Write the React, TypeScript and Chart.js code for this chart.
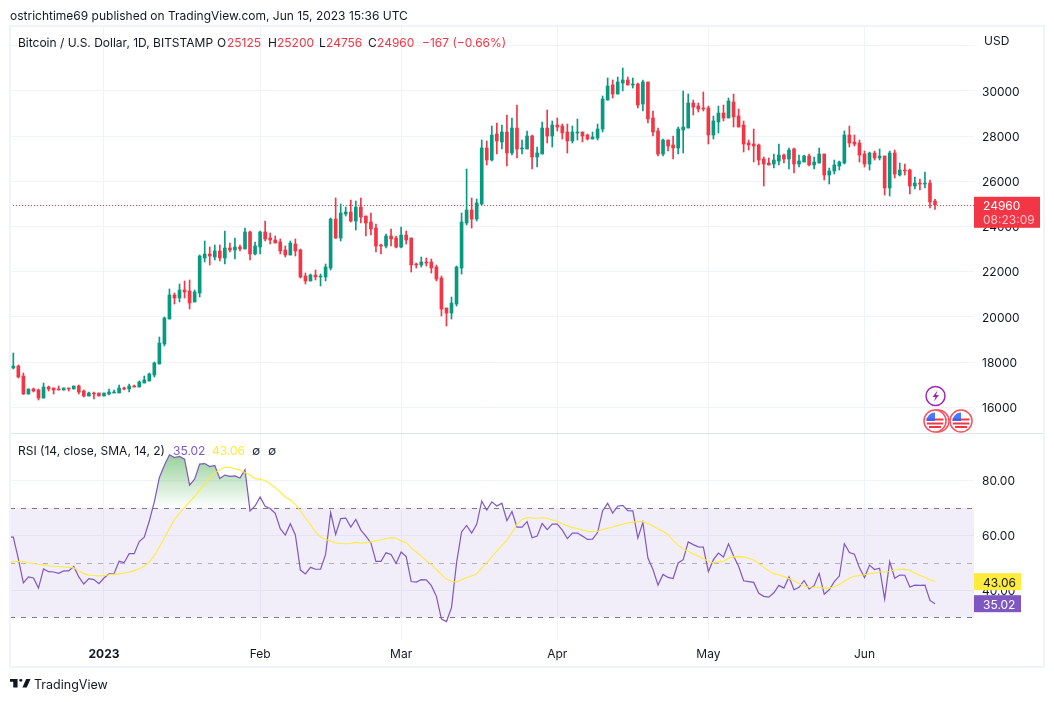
import React, { useEffect, useRef } from "react";
import { Chart, registerables } from "chart.js";

Chart.register(...registerables);

const FONT = "Inter, 'Liberation Sans', sans-serif";
const GREEN = "#089981";
const RED = "#F23645";
const PURPLE = "#7E57C2";
const YELLOW = "#FFEB3B";
const GRID = "#f0f3fa";
const INK = "#131722";

// Day offset from 1 Jan 2023 of the first candle (14 Dec 2022); one candle per day.
const firstDay = -18;

const opens = [
  17739, 17827, 17385, 16589, 16810, 16766, 16412, 16898, 16854, 16810,
  16766, 16854, 16810, 16943, 16721, 16500, 16633, 16633, 16500, 16589,
  16633, 16633, 16854, 16810, 16943, 16898, 17075, 17164, 17429, 17916,
  18801, 19907, 20969, 20836, 21191, 21146, 20660, 21058, 22607, 22784,
  22651, 22916, 22607, 23049, 22961, 23093, 23005, 23757, 22784, 23093,
  23757, 23492, 23403, 23315, 22961, 22739, 23226, 22961, 21810, 21589,
  21854, 21766, 21766, 22163, 24331, 23491, 24553, 24641, 24243, 24862,
  24464, 24199, 23933, 23181, 23137, 23579, 23491, 23092, 23623, 23491,
  22340, 22296, 22428, 22428, 22207, 21721, 20393, 20172, 20570, 22163,
  24154, 24729, 24331, 24995, 27473, 26942, 28093, 27739, 28181, 27252,
  28358, 27429, 27429, 28004, 27075, 27207, 28358, 28004, 28491, 28447,
  28181, 27783, 28137, 28181, 28048, 27871, 27915, 28314, 29597, 30261,
  29862, 30349, 30482, 30261, 30305, 29420, 30394, 28801, 28225, 27207,
  27827, 27606, 27473, 28269, 28358, 29464, 29331, 29243, 29243, 28048,
  28624, 29022, 28801, 29509, 28889, 28491, 27694, 27650, 27606, 26986,
  26809, 26765, 26898, 27163, 26986, 27429, 26765, 26853, 27119, 26721,
  26809, 27207, 26278, 26455, 26676, 26809, 28048, 27738, 27694, 27207,
  26765, 27252, 27031, 27119, 25703, 27252, 26278, 26499, 26499, 25791,
  25924, 25880, 25924, 25125,
];

const highs = [
  18403, 17872, 17518, 16810, 16854, 16810, 17075, 16943, 16854, 16943,
  16854, 16854, 16943, 16987, 16766, 16677, 16677, 16633, 16633, 16810,
  16766, 16987, 16898, 17031, 16987, 17164, 17385, 17518, 18004, 19111,
  19996, 21235, 21058, 21456, 21589, 21633, 21191, 22739, 23359, 23093,
  23182, 23182, 23801, 23270, 23492, 23182, 23934, 23801, 23315, 23801,
  24244, 23713, 23580, 23447, 23138, 23359, 23447, 23005, 21943, 21899,
  22076, 21899, 22341, 24376, 25261, 24995, 24862, 25172, 25128, 25261,
  24464, 24597, 24110, 23225, 23667, 23889, 23579, 23977, 23800, 23491,
  22384, 22650, 22606, 22561, 22296, 21809, 20393, 20880, 22252, 24597,
  26544, 25261, 25216, 27827, 27783, 28447, 28579, 28491, 28933, 28801,
  29376, 27827, 28225, 28048, 27517, 28623, 29154, 28668, 28801, 28535,
  28535, 28447, 28756, 28181, 28093, 28181, 28535, 29774, 30571, 30482,
  30615, 31013, 30615, 30571, 30349, 30482, 30394, 29110, 28358, 27871,
  27827, 28004, 28402, 29995, 29862, 29597, 29464, 29951, 29331, 28889,
  29331, 29376, 29685, 29862, 29199, 28668, 27827, 28314, 27650, 27075,
  27031, 27207, 27650, 27207, 27473, 27473, 27163, 27163, 27207, 27075,
  27473, 27207, 26588, 26942, 26898, 28225, 28446, 28048, 27827, 27340,
  27296, 27340, 27429, 27119, 27340, 27384, 26809, 26765, 26544, 26189,
  26101, 26411, 26057, 25200,
];

const lows = [
  17695, 17297, 16570, 16580, 16677, 16323, 16400, 16721, 16589, 16766,
  16760, 16721, 16810, 16589, 16456, 16500, 16367, 16500, 16500, 16544,
  16633, 16633, 16766, 16677, 16898, 16898, 17075, 17164, 17341, 17916,
  18712, 19907, 20571, 20660, 20836, 20350, 20660, 20881, 22430, 22297,
  22518, 22474, 22341, 22872, 22562, 22916, 23005, 22518, 22739, 22784,
  23359, 23226, 23270, 22784, 22651, 22739, 22695, 21721, 21456, 21589,
  21633, 21368, 21589, 22075, 23470, 23358, 24464, 24199, 23845, 24154,
  23579, 23623, 22871, 22783, 23048, 23137, 23048, 23048, 23225, 21986,
  22163, 22207, 22251, 21942, 21588, 20039, 19597, 19906, 20481, 21897,
  24066, 23933, 24243, 24951, 26721, 26898, 27207, 27429, 26677, 27163,
  27030, 27207, 27429, 26544, 26632, 27207, 27694, 27517, 28225, 27871,
  27252, 27694, 27827, 27738, 27827, 27871, 27827, 28181, 29590, 29685,
  29860, 29995, 30261, 30128, 29243, 29110, 28579, 28004, 27119, 27119,
  27340, 26986, 27207, 27252, 28358, 28933, 29066, 29110, 27650, 27871,
  28137, 28668, 28801, 28402, 28402, 27296, 27384, 26854, 26721, 25791,
  26721, 26588, 26721, 26809, 26544, 26367, 26632, 26853, 26676, 26544,
  26809, 26057, 25880, 26322, 26499, 26765, 27517, 27562, 26853, 26632,
  26499, 26942, 26942, 25393, 25349, 26145, 26234, 26278, 25437, 25659,
  25615, 25703, 24818, 24756,
];

const closes = [
  17827, 17341, 16589, 16810, 16721, 16412, 16898, 16810, 16766, 16766,
  16854, 16810, 16943, 16677, 16500, 16633, 16589, 16500, 16633, 16677,
  16677, 16854, 16810, 16943, 16898, 17120, 17208, 17474, 17960, 18845,
  19952, 20969, 20836, 21191, 21102, 20615, 21102, 22695, 22784, 22695,
  22916, 22607, 23049, 22961, 23093, 23005, 23757, 22784, 23138, 23757,
  23447, 23403, 23270, 22916, 22739, 23270, 22916, 21766, 21589, 21854,
  21766, 21810, 22208, 24331, 23491, 24597, 24641, 24243, 24862, 24420,
  24154, 23889, 23137, 23137, 23579, 23446, 23092, 23623, 23402, 22296,
  22296, 22428, 22384, 22163, 21676, 20349, 20172, 20614, 22207, 24199,
  24729, 24331, 25039, 27473, 26942, 28048, 27783, 28181, 27252, 28358,
  27429, 27473, 28004, 27075, 27252, 28358, 28004, 28491, 28402, 28137,
  27783, 28181, 28181, 28004, 27871, 27960, 28314, 29641, 30217, 29862,
  30394, 30482, 30261, 30305, 29376, 30394, 28756, 28181, 27207, 27827,
  27562, 27473, 28314, 28402, 29464, 29287, 29199, 29199, 28048, 28668,
  29022, 28801, 29553, 28845, 28402, 27650, 27606, 27562, 26942, 26765,
  26721, 26942, 27163, 26986, 27384, 26765, 26898, 27119, 26721, 26853,
  27207, 26278, 26455, 26721, 26853, 28048, 27694, 27650, 27163, 26765,
  27252, 27031, 27119, 25703, 27252, 26322, 26499, 26455, 25791, 25924,
  25880, 25924, 25084, 24960,
];

const rsiValues = [
  59.3, 51.4, 42.6, 44.8, 44.4, 40.7, 47.7, 46.7, 46.6, 46.1,
  47.0, 47.0, 48.6, 44.8, 42.2, 44.2, 43.8, 42.3, 44.4, 45.9,
  46.0, 50.5, 50.0, 53.3, 53.3, 57.7, 59.3, 65.2, 72.3, 81.1,
  85.6, 89.4, 88.4, 88.8, 87.8, 78.3, 80.5, 86.0, 86.2, 85.1,
  85.5, 80.7, 82.0, 81.5, 81.7, 80.9, 83.9, 68.9, 70.7, 74.0,
  70.6, 69.8, 68.0, 62.4, 60.1, 64.2, 60.1, 47.3, 45.9, 48.3,
  47.6, 47.6, 53.0, 68.3, 60.3, 66.1, 66.3, 63.0, 65.8, 61.9,
  59.7, 57.2, 50.5, 50.5, 53.6, 53.0, 49.7, 53.9, 52.2, 43.1,
  42.9, 43.8, 43.7, 41.6, 37.7, 29.4, 28.5, 33.6, 49.9, 61.2,
  63.6, 60.8, 64.0, 72.5, 69.2, 72.2, 70.7, 71.7, 65.3, 68.7,
  63.0, 63.0, 65.0, 59.1, 59.7, 64.3, 62.1, 64.1, 64.1, 61.9,
  58.8, 60.8, 60.8, 59.7, 58.5, 58.6, 61.0, 68.9, 71.7, 68.1,
  70.6, 70.9, 69.0, 68.9, 59.0, 64.7, 51.7, 47.5, 41.8, 45.7,
  44.6, 44.2, 49.9, 51.1, 57.6, 56.6, 55.8, 55.7, 46.7, 51.1,
  53.5, 52.1, 56.9, 52.4, 48.7, 43.4, 43.1, 42.8, 38.8, 37.7,
  37.4, 39.0, 41.7, 40.7, 44.8, 40.1, 41.0, 43.5, 40.4, 41.6,
  46.1, 38.5, 40.1, 43.1, 45.1, 56.9, 53.7, 53.1, 48.1, 44.6,
  49.1, 47.5, 48.0, 36.7, 50.4, 44.3, 45.5, 45.4, 41.1, 41.8,
  41.7, 41.8, 36.2, 35.02,
];

const rsiSma = [
  50.3, 50.5, 50.4, 50.0, 49.7, 49.4, 49.2, 48.9, 48.7, 48.6,
  48.4, 48.3, 48.1, 47.1, 46.0, 45.4, 45.3, 45.1, 45.3, 45.6,
  45.8, 45.9, 46.2, 46.6, 47.1, 47.8, 48.7, 50.2, 52.6, 55.7,
  59.1, 62.5, 65.8, 68.0, 70.2, 72.2, 74.1, 76.5, 78.7, 81.0,
  82.7, 83.9, 84.8, 84.8, 84.3, 83.8, 82.9, 82.0, 80.7, 80.5,
  79.9, 78.8, 77.4, 75.8, 74.0, 72.9, 71.3, 68.9, 66.4, 64.0,
  61.2, 59.4, 58.5, 57.9, 57.2, 57.0, 56.9, 57.0, 57.4, 57.2,
  57.2, 57.6, 58.1, 58.3, 58.8, 59.1, 59.0, 57.9, 57.4, 55.4,
  53.9, 52.4, 50.8, 49.3, 47.5, 45.6, 44.0, 43.2, 42.9, 43.8,
  44.6, 45.1, 45.9, 48.1, 49.9, 52.1, 54.2, 56.3, 58.2, 60.9,
  64.0, 65.8, 66.5, 66.3, 66.2, 66.4, 66.2, 65.6, 65.1, 64.2,
  63.5, 62.8, 62.5, 61.9, 61.5, 61.3, 61.4, 62.1, 62.6, 63.0,
  63.6, 64.0, 64.5, 64.8, 65.0, 65.0, 64.3, 63.4, 62.3, 61.5,
  60.3, 58.1, 56.4, 55.0, 54.2, 53.2, 52.4, 51.4, 50.5, 50.0,
  50.3, 50.5, 51.6, 52.1, 52.2, 52.1, 51.6, 51.0, 49.7, 48.3,
  47.1, 46.0, 45.6, 44.9, 44.2, 43.3, 42.4, 41.5, 41.1, 41.0,
  41.0, 40.7, 40.7, 41.2, 42.0, 43.2, 44.3, 45.1, 45.3, 45.6,
  46.0, 46.2, 46.6, 46.6, 46.8, 47.3, 47.6, 47.7, 47.2, 46.2,
  45.4, 44.6, 43.8, 43.06,
];

// The readings of the day just left of the first candle, where the lines enter the pane.
const rsiPrior = 59.3;
const smaPrior = 50.2;

const priceTicks = [16000, 18000, 20000, 22000, 24000, 26000, 28000, 30000, 32000];
const rsiTicks = [40, 60, 80];
const monthTicks = [0, 31, 59, 90, 120, 151];
const monthLabels = ["2023", "Feb", "Mar", "Apr", "May", "Jun"];
const lastPrice = 24960;
const countdown = "08:23:09";
const rsiLast = 35.02;
const smaLast = 43.06;

const days = opens.map((_, i) => firstDay + i);
const AXIS_SIZE = 12;

const panesPlugin = {
  id: "panes",
  beforeDatasetsDraw(chart: any) {
    const { ctx, chartArea: a, scales } = chart;
    const r = scales.rsi;
    ctx.save();
    ctx.fillStyle = "rgba(126,87,194,0.1)";
    ctx.fillRect(a.left - 1, r.getPixelForValue(70), a.right - a.left + 1, r.getPixelForValue(30) - r.getPixelForValue(70));
    ctx.lineWidth = 1;
    ctx.setLineDash([5, 6]);
    ctx.strokeStyle = "#787B86";
    for (const v of [70, 30]) {
      const y = Math.round(r.getPixelForValue(v)) + 0.5;
      ctx.beginPath(); ctx.moveTo(a.left - 1, y); ctx.lineTo(a.right, y); ctx.stroke();
    }
    ctx.strokeStyle = "rgba(120,123,134,0.55)";
    const mid = Math.round(r.getPixelForValue(50)) + 0.5;
    ctx.beginPath(); ctx.moveTo(a.left - 1, mid); ctx.lineTo(a.right, mid); ctx.stroke();
    // last price dotted line
    ctx.setLineDash([1, 2]);
    ctx.strokeStyle = RED;
    const py = Math.round(scales.price.getPixelForValue(lastPrice)) + 0.5;
    ctx.beginPath(); ctx.moveTo(a.left - 1, py); ctx.lineTo(a.right, py); ctx.stroke();
    ctx.restore();
  },
  afterDraw(chart: any) {
    const { ctx, chartArea: a, scales } = chart;
    ctx.save();
    // pane divider and frame
    ctx.fillStyle = "#e0e3eb";
    ctx.fillRect(10, Math.round(scales.rsi.top) - 1, 1034, 1);
    ctx.strokeStyle = GRID;
    ctx.lineWidth = 2;
    ctx.strokeRect(10, 26, 1034, 641);
    // value tags
    const tag = (y: number, h: number, bg: string) => {
      ctx.fillStyle = bg;
      ctx.fillRect(a.right, y, bg === RED ? 66 : 47, h);
    };
    ctx.textBaseline = "middle";
    ctx.textAlign = "left";
    ctx.font = `${AXIS_SIZE}px ${FONT}`;
    const yp = scales.price.getPixelForValue(lastPrice);
    tag(yp - 8, 31, RED);
    ctx.fillStyle = "#ffffff";
    ctx.fillText(String(lastPrice), a.right + 9, yp + 1.5);
    ctx.fillStyle = "rgba(255,255,255,0.7)";
    ctx.fillText(countdown, a.right + 9, yp + 16);
    const ys = scales.rsi.getPixelForValue(smaLast);
    tag(ys - 8.5, 17, YELLOW);
    ctx.fillStyle = INK;
    ctx.fillText(smaLast.toFixed(2), a.right + 9, ys + 1.5);
    const yr = scales.rsi.getPixelForValue(rsiLast);
    tag(yr - 8.5, 17, PURPLE);
    ctx.fillStyle = "#ffffff";
    ctx.fillText(rsiLast.toFixed(2), a.right + 9, yr + 1.5);
    ctx.restore();
  },
};

const txt = (left: number, top: number, text: string, color = INK, size = 12) => (
  <span style={{ position: "absolute", left, top, color, fontSize: size, lineHeight: "16px", whiteSpace: "pre" }}>{text}</span>
);

const Flag = ({ cx, cy }: { cx: number; cy: number }) => (
  <g>
    <circle cx={cx} cy={cy} r={11} fill="#fff" stroke="#F7525F" strokeWidth={1.5} />
    <circle cx={cx} cy={cy} r={8.5} fill="#fff" />
    <path d={`M${cx - 8.5} ${cy - 1.5}h17M${cx - 8.2} ${cy + 2.5}h16.4M${cx - 6} ${cy + 6}h12`} stroke="#F23645" strokeWidth={2} />
    <path d={`M${cx - 8.5} ${cy}a8.5 8.5 0 0 1 8.5 -8.5v8.5z`} fill="#2962FF" opacity={0.85} />
  </g>
);

export default function App() {
  const ref = useRef<HTMLCanvasElement | null>(null);

  useEffect(() => {
    if (!ref.current) return;
    const wick = days.map((d, i) => ({ x: d, y: [lows[i], highs[i]] }));
    const body = days.map((d, i) => ({ x: d, y: [Math.min(opens[i], closes[i]), Math.max(opens[i], closes[i])] }));
    const colors = days.map((_, i) => (closes[i] >= opens[i] ? GREEN : RED));
    const chart = new Chart(ref.current, {
      type: "bar",
      data: {
        datasets: [
          { label: "wick", data: wick, backgroundColor: colors, barThickness: 1, grouped: false, yAxisID: "price", xAxisID: "x", order: 2 } as any,
          { label: "body", data: body, backgroundColor: colors, barThickness: 3, grouped: false, yAxisID: "price", xAxisID: "x", order: 1 } as any,
          {
            type: "line", label: "RSI",
            data: [{ x: firstDay - 1, y: rsiPrior }, ...days.map((d, i) => ({ x: d, y: rsiValues[i] }))],
            borderColor: PURPLE, borderWidth: 1.2,
            pointRadius: 0, tension: 0, yAxisID: "rsi", xAxisID: "x", order: 1,
            fill: { target: { value: 70 }, above: "rgba(76,175,80,0.3)", below: "rgba(0,0,0,0)" },
          } as any,
          {
            type: "line", label: "RSI-based MA",
            data: [{ x: firstDay - 1, y: smaPrior }, ...days.map((d, i) => ({ x: d, y: rsiSma[i] }))],
            borderColor: YELLOW, borderWidth: 1.1,
            pointRadius: 0, tension: 0, yAxisID: "rsi", xAxisID: "x", order: 0,
          } as any,
        ],
      },
      options: {
        responsive: false,
        animation: false,
        events: [],
        layout: { padding: { left: 11, right: 11, top: 27, bottom: 35 } },
        plugins: { legend: { display: false }, title: { display: false }, tooltip: { enabled: false } },
        scales: {
          x: {
            type: "linear",
            min: -18.46,
            max: 172.74,
            offset: false,
            afterFit: (s: any) => { s.height = 27; },
            afterBuildTicks: (s: any) => { s.ticks = monthTicks.map((value) => ({ value })); },
            grid: { color: GRID, drawTicks: false, offset: false },
            border: { display: false },
            ticks: {
              autoSkip: false, maxRotation: 0, padding: 7, color: INK,
              font: (c: any) => ({ family: FONT, size: AXIS_SIZE, weight: c.tick && c.tick.value === 0 ? "bold" : "normal" }),
              callback: (v: any) => monthLabels[monthTicks.indexOf(Number(v))] ?? "",
            },
          },
          price: {
            type: "linear", position: "right", stack: "panes", stackWeight: 407, min: 14819, max: 32827,
            afterFit: (s: any) => { s.width = 69; },
            afterBuildTicks: (s: any) => { s.ticks = priceTicks.map((value) => ({ value })); },
            grid: { color: GRID, drawTicks: false },
            border: { display: false },
            ticks: {
              padding: 8, color: INK, font: { family: FONT, size: AXIS_SIZE, lineHeight: "2px" },
              callback: (v: any) => (Number(v) === 32000 ? "" : ["", String(v)]),
            },
          },
          rsi: {
            type: "linear", position: "right", stack: "panes", stackWeight: 206, min: 21.76, max: 96.99,
            afterFit: (s: any) => { s.width = 69; },
            afterBuildTicks: (s: any) => { s.ticks = rsiTicks.map((value) => ({ value })); },
            grid: { color: GRID, drawTicks: false },
            border: { display: false },
            ticks: {
              padding: 8, color: INK, font: { family: FONT, size: AXIS_SIZE, lineHeight: "2px" },
              callback: (v: any) => ["", Number(v).toFixed(2)],
            },
          },
        },
      } as any,
      plugins: [panesPlugin],
    });
    const g = chart.ctx.createLinearGradient(0, chart.scales.rsi.getPixelForValue(90), 0, chart.scales.rsi.getPixelForValue(70));
    g.addColorStop(0, "rgba(76,175,80,0.6)");
    g.addColorStop(1, "rgba(76,175,80,0)");
    (chart.data.datasets[2] as any).fill.above = g;
    chart.update("none");
    return () => chart.destroy();
  }, []);

  return (
    <div style={{ position: "absolute", left: 0, top: 0, width: 1054, height: 702, overflow: "hidden", background: "#fff", fontFamily: FONT }}>
      <canvas ref={ref} width={1054} height={702} style={{ position: "absolute", left: 0, top: 0, width: 1054, height: 702 }} />
      {txt(10, 8, "ostrichtime69 published on TradingView.com, Jun 15, 2023 15:36 UTC")}
      {txt(18, 35, "Bitcoin / U.S. Dollar, 1D, BITSTAMP")}
      {txt(217, 35, "O")}{txt(227, 35, "25125", RED)}
      {txt(268, 35, "H")}{txt(277, 35, "25200", RED)}
      {txt(319, 35, "L")}{txt(326, 35, "24756", RED)}
      {txt(368, 35, "C")}{txt(377, 35, "24960", RED)}
      {txt(422, 35, "−167 (−0.66%)", RED)}
      {txt(984, 33, "USD")}
      {txt(18, 443, "RSI (14, close, SMA, 14, 2)")}
      {txt(173, 443, "35.02", PURPLE)}
      {txt(212, 443, "43.06", YELLOW)}
      {txt(252, 443, "∅")}
      {txt(268, 443, "∅")}
      {txt(34, 677, "TradingView", INK, 12.5)}
      <svg width={1054} height={702} style={{ position: "absolute", left: 0, top: 0, pointerEvents: "none" }}>
        <circle cx={935.5} cy={396} r={9.5} fill="#fff" stroke="#9C27B0" strokeWidth={1.5} />
        <path d="M937.5 390.5l-5 6.5h3l-1.5 4.5 5-6.5h-3z" fill="#9C27B0" />
        <Flag cx={938} cy={421} />
        <Flag cx={935} cy={421} />
        <Flag cx={961} cy={421} />
        <g transform="translate(10 679) scale(0.54 0.45)">
          <path d="M14 0H0v6h6v13h8V0Zm17 19h-8l7-19h8l-7 19ZM20 6a3 3 0 1 0 0-6 3 3 0 0 0 0 6Z" fill={INK} />
        </g>
      </svg>
    </div>
  );
}
